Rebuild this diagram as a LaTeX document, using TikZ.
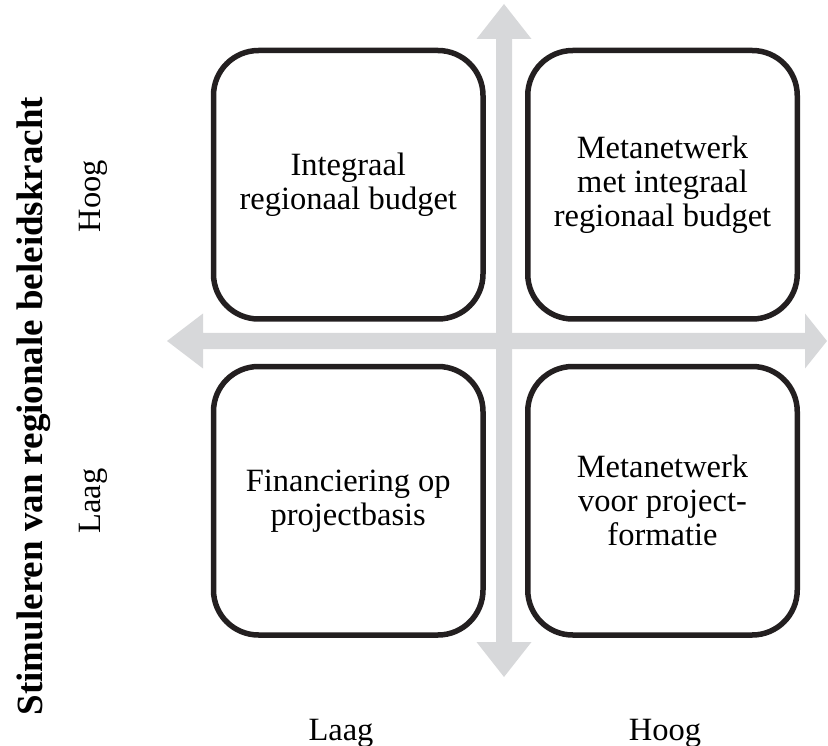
\documentclass[tikz,border=0pt]{standalone}
\usepackage{fontspec}
\setmainfont{Liberation Serif}
\begin{document}
\begin{tikzpicture}[x=1pt,y=-1pt,
  quadrant/.style={draw=boxline, line width=5.5pt, rounded corners=45pt,
    minimum width=269.5pt, minimum height=268.5pt, align=center,
    inner sep=0pt, font=\fontsize{32.5}{34}\selectfont},
  axislabel/.style={font=\fontsize{32.5}{34}\selectfont, anchor=base, inner sep=0pt},
  axisfill/.style={fill=axisgray, draw=none}]
\definecolor{axisgray}{RGB}{215,216,218}
\definecolor{boxline}{RGB}{35,31,32}
\useasboundingbox (0,0) rectangle (828,746);

% axis cross: vertical and horizontal double arrows
\coordinate (vtop) at (504,4);
\coordinate (vbot) at (504,677);
\coordinate (hleft) at (167,341);
\coordinate (hright) at (827,341);
\fill[axisgray] (vtop) -- ++(27.5,35) -- ++(-19.5,0) -- (512,642) -- ++(19.5,0)
  -- (vbot) -- ++(-27.5,-35) -- ++(19.5,0) -- (496,39) -- ++(-19.5,0) -- cycle;
\fill[axisgray] (hleft) -- ++(36,-27.5) -- ++(0,19.5) -- (805,333) -- ++(0,-19.5)
  -- (hright) -- ++(-22,27.5) -- ++(0,-19.5) -- (203,349) -- ++(0,19.5) -- cycle;

% quadrants
\node[quadrant] (tl) at (348.25,184.75) {Integraal\\regionaal budget};
\node[quadrant] (tr) at (662.5,184.75) {Metanetwerk\\met integraal\\regionaal budget};
\node[quadrant] (bl) at (348.25,500.75) {Financiering op\\projectbasis};
\node[quadrant] (br) at (662.5,500.75) {Metanetwerk\\voor project-\\formatie};

% axis labels
\node[axislabel, rotate=90] (yhigh) at (100,196) {Hoog};
\node[axislabel, rotate=90] (ylow) at (100,501) {Laag};
\node[anchor=base, inner sep=0pt, rotate=90, font=\fontsize{37}{40}\bfseries\selectfont]
  (ytitle) at (42,406) {Stimuleren van regionale beleidskracht};
\node[axislabel] (xlow) at (341,740) {Laag};
\node[axislabel] (xhigh) at (665,740) {Hoog};
\end{tikzpicture}
\end{document}
